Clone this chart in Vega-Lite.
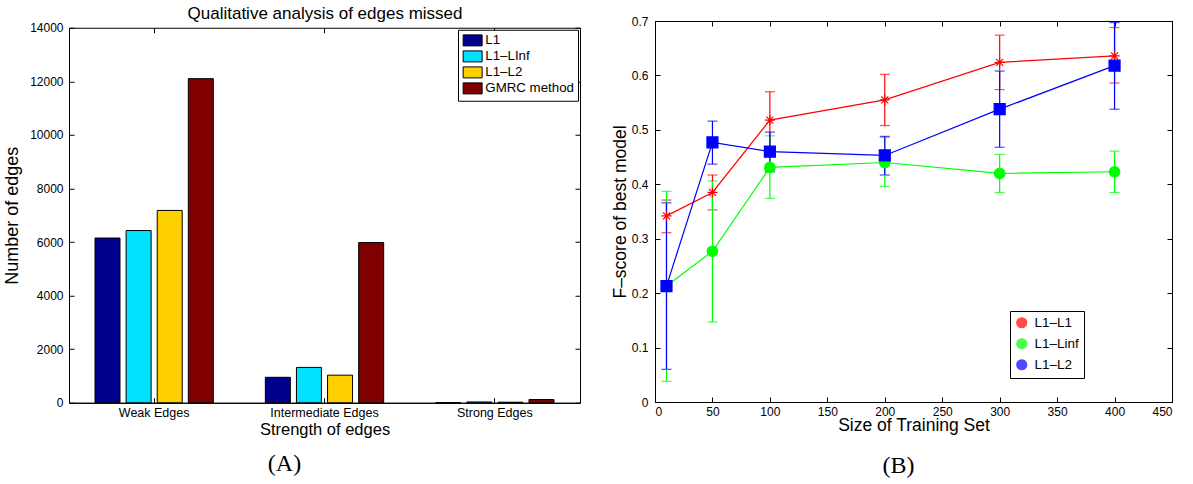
{
  "$schema": "https://vega.github.io/schema/vega-lite/v6.json",
  "background": "white",
  "padding": {"left": 3, "top": 3, "right": 5, "bottom": 0},
  "config": {
    "font": "Liberation Sans",
    "view": {"stroke": "black", "strokeWidth": 1},
    "axis": {
      "domainColor": "black", "tickColor": "black", "labelColor": "black", "titleColor": "black",
      "grid": false, "labelFontSize": 12, "titleFontWeight": "normal", "titleFontSize": 15,
      "tickSize": -5, "labelPadding": 9, "labelFont": "Liberation Sans", "titleFont": "Liberation Sans"
    },
    "title": {"fontWeight": "normal", "color": "black"}
  },
  "datasets": {
    "bars": [
      {"strength": "Weak Edges", "method": "L1", "count": 6150},
      {"strength": "Weak Edges", "method": "L1–LInf", "count": 6430},
      {"strength": "Weak Edges", "method": "L1–L2", "count": 7180},
      {"strength": "Weak Edges", "method": "GMRC method", "count": 12100},
      {"strength": "Intermediate Edges", "method": "L1", "count": 950},
      {"strength": "Intermediate Edges", "method": "L1–LInf", "count": 1320},
      {"strength": "Intermediate Edges", "method": "L1–L2", "count": 1030},
      {"strength": "Intermediate Edges", "method": "GMRC method", "count": 5980},
      {"strength": "Strong Edges", "method": "L1", "count": 5},
      {"strength": "Strong Edges", "method": "L1–LInf", "count": 30},
      {"strength": "Strong Edges", "method": "L1–L2", "count": 20},
      {"strength": "Strong Edges", "method": "GMRC method", "count": 120}
    ],
    "fscore": [
      {"size": 10, "series": "L1–L1", "f": 0.342, "lo": 0.311, "hi": 0.371},
      {"size": 50, "series": "L1–L1", "f": 0.385, "lo": 0.353, "hi": 0.417},
      {"size": 100, "series": "L1–L1", "f": 0.518, "lo": 0.465, "hi": 0.570},
      {"size": 200, "series": "L1–L1", "f": 0.555, "lo": 0.508, "hi": 0.602},
      {"size": 300, "series": "L1–L1", "f": 0.624, "lo": 0.574, "hi": 0.674},
      {"size": 400, "series": "L1–L1", "f": 0.636, "lo": 0.586, "hi": 0.688},
      {"size": 10, "series": "L1–Linf", "f": 0.213, "lo": 0.038, "hi": 0.387},
      {"size": 50, "series": "L1–Linf", "f": 0.277, "lo": 0.147, "hi": 0.406},
      {"size": 100, "series": "L1–Linf", "f": 0.431, "lo": 0.374, "hi": 0.489},
      {"size": 200, "series": "L1–Linf", "f": 0.440, "lo": 0.396, "hi": 0.486},
      {"size": 300, "series": "L1–Linf", "f": 0.420, "lo": 0.385, "hi": 0.455},
      {"size": 400, "series": "L1–Linf", "f": 0.423, "lo": 0.385, "hi": 0.461},
      {"size": 10, "series": "L1–L2", "f": 0.213, "lo": 0.060, "hi": 0.366},
      {"size": 50, "series": "L1–L2", "f": 0.477, "lo": 0.437, "hi": 0.516},
      {"size": 100, "series": "L1–L2", "f": 0.460, "lo": 0.423, "hi": 0.496},
      {"size": 200, "series": "L1–L2", "f": 0.453, "lo": 0.417, "hi": 0.488},
      {"size": 300, "series": "L1–L2", "f": 0.538, "lo": 0.468, "hi": 0.608},
      {"size": 400, "series": "L1–L2", "f": 0.618, "lo": 0.538, "hi": 0.697}
    ]
  },
  "columns": 2,
  "align": "each",
  "center": true,
  "spacing": 29,
  "resolve": {"scale": {"color": "independent"}, "legend": {"color": "independent"}},
  "concat": [
    {
      "width": 511,
      "height": 375,
      "data": {"name": "bars"},
      "title": {"text": "(A)", "orient": "bottom", "font": "Liberation Serif", "fontSize": 24, "fontWeight": "normal", "dx": -40, "offset": 14, "anchor": "middle"},
      "layer": [
        {
          "mark": {"type": "bar", "stroke": "black", "strokeWidth": 1},
          "encoding": {
            "x": {"field": "strength", "type": "nominal", "sort": ["Weak Edges", "Intermediate Edges", "Strong Edges"],
                  "scale": {"paddingInner": 0, "paddingOuter": 0},
                  "title": "Strength of edges",
                  "axis": {"orient": "bottom", "labelAngle": 0, "labelFontSize": 12.5, "titleFontSize": 16.5, "titlePadding": 2}},
            "xOffset": {"field": "method", "type": "nominal", "sort": ["L1", "L1–LInf", "L1–L2", "GMRC method"],
                        "scale": {"paddingInner": 0.196, "paddingOuter": 0.836}},
            "y": {"field": "count", "type": "quantitative", "scale": {"domain": [0, 14000], "nice": false},
                  "title": "Number of edges",
                  "axis": {"orient": "left", "format": "d", "values": [0, 2000, 4000, 6000, 8000, 10000, 12000, 14000], "titleFontSize": 18, "titlePadding": 8, "labelPadding": 11}},
            "color": {"field": "method", "type": "nominal",
                      "scale": {"domain": ["L1", "L1–LInf", "L1–L2", "GMRC method"], "range": ["#00008c", "#00e0ff", "#ffd000", "#800000"]},
                      "legend": {"orient": "none", "legendX": 389, "legendY": 2, "title": null, "strokeColor": "black", "fillColor": "white",
                                 "padding": 4, "symbolType": "M-1,-1H2.45V1H-1Z", "symbolSize": 121, "symbolStrokeColor": "black",
                                 "symbolStrokeWidth": 1, "labelFontSize": 13.3, "rowPadding": 0, "labelOffset": 10, "labelColor": "black"}}
          }
        },
        {
          "mark": {"type": "bar", "opacity": 0},
          "encoding": {
            "x": {"field": "strength", "type": "nominal", "sort": ["Weak Edges", "Intermediate Edges", "Strong Edges"],
                  "title": "Qualitative analysis of edges missed",
                  "axis": {"orient": "top", "labels": false, "domain": false, "titleFontSize": 17, "titlePadding": 5}},
            "xOffset": {"field": "method", "type": "nominal", "sort": ["L1", "L1–LInf", "L1–L2", "GMRC method"]},
            "y": {"field": "count", "type": "quantitative", "title": null,
                  "axis": {"orient": "right", "labels": false, "domain": false, "values": [0, 2000, 4000, 6000, 8000, 10000, 12000, 14000]}}
          }
        }
      ]
    },
    {
      "width": 517,
      "height": 381,
      "data": {"name": "fscore"},
      "title": {"text": "(B)", "orient": "bottom", "font": "Liberation Serif", "fontSize": 24, "fontWeight": "normal", "dx": -15, "offset": 20, "anchor": "middle",
                "subtitle": " ", "subtitleFontSize": 5, "subtitlePadding": 0},
      "layer": [
        {
          "mark": {"type": "errorbar", "ticks": {"size": 10}, "thickness": 1.2},
          "encoding": {
            "x": {"field": "size", "type": "quantitative", "scale": {"domain": [0, 450], "nice": false}, "title": "Size of Training Set",
                  "axis": {"orient": "bottom", "values": [0, 50, 100, 150, 200, 250, 300, 350, 400, 450], "titleFontSize": 17.5, "titlePadding": -1}},
            "y": {"field": "lo", "type": "quantitative", "scale": {"domain": [0, 0.7], "nice": false}, "title": "F–score of best model",
                  "axis": {"orient": "left", "values": [0, 0.1, 0.2, 0.3, 0.4, 0.5, 0.6, 0.7], "labelExpr": "datum.value == 0 ? '0' : format(datum.value, '.1f')", "labelPadding": 12, "titleFontSize": 17.5, "titlePadding": 2}},
            "y2": {"field": "hi"},
            "color": {"field": "series", "type": "nominal",
                      "scale": {"domain": ["L1–L1", "L1–Linf", "L1–L2"], "range": ["#ff0000", "#00ff00", "#0000ff"]}}
          }
        },
        {
          "mark": {"type": "line", "strokeWidth": 1.2},
          "encoding": {
            "x": {"field": "size", "type": "quantitative", "axis": null},
            "y": {"field": "f", "type": "quantitative", "axis": null},
            "color": {"field": "series", "type": "nominal"}
          }
        },
        {
          "mark": {"type": "point", "filled": true, "opacity": 1, "strokeWidth": 1.2},
          "encoding": {
            "x": {"field": "size", "type": "quantitative", "axis": null},
            "y": {"field": "f", "type": "quantitative", "axis": null},
            "color": {"field": "series", "type": "nominal",
                      "legend": {"orient": "none", "legendX": 355, "legendY": 290, "title": null, "strokeColor": "black", "fillColor": "white",
                                 "padding": 5, "symbolSize": 100, "symbolOpacity": 1, "symbolStrokeWidth": 1.2, "labelFontSize": 13.5, "rowPadding": 5, "labelOffset": 6, "labelColor": "black"}},
            "shape": {"field": "series", "type": "nominal",
                      "scale": {"domain": ["L1–L1", "L1–Linf", "L1–L2"], "range": ["M0,-1V1M-1,0H1M-0.7,-0.7L0.7,0.7M-0.7,0.7L0.7,-0.7", "circle", "square"]},
                      "legend": {"orient": "none", "legendX": 355, "legendY": 290, "title": null, "strokeColor": "black", "fillColor": "white",
                                 "padding": 5, "symbolSize": 100, "symbolOpacity": 1, "symbolStrokeWidth": 1.2, "labelFontSize": 13.5, "rowPadding": 5, "labelOffset": 6, "labelColor": "black"}},
            "size": {"field": "series", "type": "nominal",
                     "scale": {"domain": ["L1–L1", "L1–Linf", "L1–L2"], "range": [100, 121, 81]}, "legend": null},
            "stroke": {"field": "series", "type": "nominal",
                       "scale": {"domain": ["L1–L1", "L1–Linf", "L1–L2"], "range": ["#ff0000", "#00ff00", "#0000ff"]},
                       "legend": {"orient": "none", "legendX": 355, "legendY": 290, "title": null, "strokeColor": "black", "fillColor": "white",
                                 "padding": 5, "symbolSize": 100, "symbolOpacity": 1, "symbolStrokeWidth": 1.2, "labelFontSize": 13.5, "rowPadding": 5, "labelOffset": 6, "labelColor": "black"}}
          }
        },
        {
          "mark": {"type": "point", "opacity": 0},
          "encoding": {
            "x": {"field": "size", "type": "quantitative", "title": null,
                  "axis": {"orient": "top", "labels": false, "domain": false, "values": [0, 50, 100, 150, 200, 250, 300, 350, 400, 450]}},
            "y": {"field": "f", "type": "quantitative", "title": null,
                  "axis": {"orient": "right", "labels": false, "domain": false, "values": [0, 0.1, 0.2, 0.3, 0.4, 0.5, 0.6, 0.7]}}
          }
        }
      ]
    }
  ]
}
